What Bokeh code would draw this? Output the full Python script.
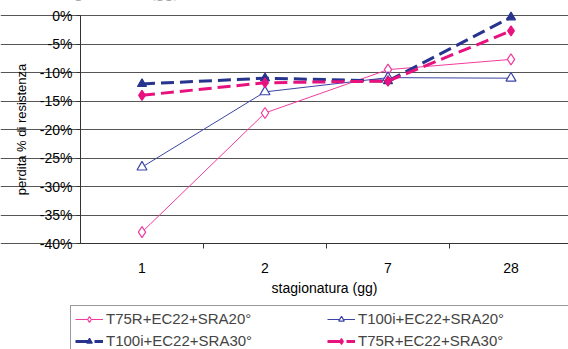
from bokeh.plotting import figure
from bokeh.models import (FixedTicker, NumeralTickFormatter, Legend, LegendItem, Label,
                          ColumnDataSource, Range1d)
from bokeh.embed import file_html
from bokeh.resources import INLINE

categories = ["1", "2", "7", "28"]
t75r_20 = [-0.380, -0.171, -0.095, -0.077]
t100i_20 = [-0.266, -0.134, -0.109, -0.110]
t100i_30 = [-0.120, -0.110, -0.115, -0.003]
t75r_30 = [-0.140, -0.118, -0.115, -0.027]
y_ticks = [-0.40, -0.35, -0.30, -0.25, -0.20, -0.15, -0.10, -0.05, 0.0]

xpos = list(range(1, len(categories) + 1))

FONT = "Liberation Sans"
W, H = 568, 349
PX_X = 123.0      # pixels per category
PX_Y = 570.0      # pixels per unit (100 %)
X0_PX, Y0_PX = 80, 15   # y-axis x position, 0% y position

x_start = 0.5 - X0_PX / PX_X
x_end = x_start + W / PX_X
y_end = 0.0 + Y0_PX / PX_Y
y_start = y_end - H / PX_Y

p = figure(width=W, height=H, output_backend="svg", toolbar_location=None,
           x_range=Range1d(x_start, x_end), y_range=Range1d(y_start, y_end),
           min_border_left=0, min_border_right=0, min_border_top=0,
           min_border_bottom=0)
p.outline_line_color = None
p.background_fill_color = "white"
p.border_fill_color = "white"

# x axis, drawn at -40 %
p.xaxis.fixed_location = -0.40
p.xaxis.bounds = (0.5, x_end)
p.xaxis.ticker = FixedTicker(ticks=xpos, minor_ticks=[1.5, 2.5, 3.5])
p.xaxis.major_label_overrides = {i: c for i, c in zip(xpos, categories)}
p.xaxis.major_tick_out = 0
p.xaxis.major_tick_in = 0
p.xaxis.minor_tick_out = 5
p.xaxis.minor_tick_in = 0
p.xaxis.minor_tick_line_color = "#333333"
p.xaxis.axis_line_color = "#333333"
p.xaxis.major_label_standoff = 14
p.xaxis.major_label_text_font = FONT
p.xaxis.major_label_text_font_size = "14px"
p.xaxis.major_label_text_color = "black"
p.xaxis.axis_label = "stagionatura (gg)"
p.xaxis.axis_label_text_font = FONT
p.xaxis.axis_label_text_font_style = "normal"
p.xaxis.axis_label_text_font_size = "14px"
p.xaxis.axis_label_text_color = "black"
p.xaxis.axis_label_standoff = 4

# y axis, drawn at the left edge of the first category
p.yaxis.fixed_location = 0.5
p.yaxis.bounds = (-0.40, 0.0)
p.yaxis.ticker = FixedTicker(ticks=y_ticks)
p.yaxis.formatter = NumeralTickFormatter(format="0%")
p.yaxis.major_tick_out = 4
p.yaxis.major_tick_in = 0
p.yaxis.minor_tick_out = 0
p.yaxis.minor_tick_in = 0
p.yaxis.axis_line_color = "#333333"
p.yaxis.major_tick_line_color = "#333333"
p.yaxis.major_label_standoff = 4
p.yaxis.major_label_text_font = FONT
p.yaxis.major_label_text_font_size = "14px"
p.yaxis.major_label_text_color = "black"
p.yaxis.axis_label = "perdita % di resistenza"
p.yaxis.axis_label_text_font = FONT
p.yaxis.axis_label_text_font_style = "normal"
p.yaxis.axis_label_text_font_size = "13px"
p.yaxis.axis_label_text_color = "black"
p.yaxis.axis_label_standoff = 8

p.xgrid.grid_line_color = None
p.ygrid.ticker = FixedTicker(ticks=y_ticks)
p.ygrid.bounds = (0.5, x_end)
p.ygrid.grid_line_color = "#555555"
p.ygrid.grid_line_width = 1

series = [
    ("T75R+EC22+SRA20°", t75r_20, "#F03C9C", 1, "solid", "diamond", "white", 11),
    ("T100i+EC22+SRA20°", t100i_20, "#3A45A5", 1, "solid", "triangle", "white", 10),
    ("T100i+EC22+SRA30°", t100i_30, "#26348E", 3, "13 6", "triangle", "#26348E", 9),
    ("T75R+EC22+SRA30°", t75r_30, "#E8127F", 3, "13 6", "diamond", "#E8127F", 10),
]

items = {}
for name, vals, col, lw, dash, mk, fill, sz in series:
    src = ColumnDataSource(dict(x=xpos, y=vals))
    r1 = p.line("x", "y", source=src, line_color=col, line_width=lw, line_dash=dash)
    r2 = p.scatter("x", "y", source=src, marker=mk, size=sz, line_color=col,
                   fill_color=fill, line_width=1.2)
    items[name] = [r1, r2]

# column-major order: first column then second column
order = ["T75R+EC22+SRA20°", "T100i+EC22+SRA30°", "T100i+EC22+SRA20°", "T75R+EC22+SRA30°"]
legend = Legend(items=[LegendItem(label=n, renderers=items[n]) for n in order],
                nrows=2, orientation="vertical", location=(70, -5))
legend.label_text_font = FONT
legend.label_text_font_size = "15px"
legend.label_width = 216
legend.label_height = 14
legend.label_standoff = 3
legend.glyph_width = 28
legend.glyph_height = 14
legend.spacing = 5
legend.padding = 4
legend.margin = 0
legend.border_line_color = "#333333"
legend.border_line_width = 1
legend.background_fill_alpha = 1
p.add_layout(legend, "center")

# partially visible caption text cut at the top edge
p.add_layout(Label(x=185, y=H + 10, x_units="screen", y_units="screen",
                   text="stagionatura (gg),", text_font="Liberation Serif",
                   text_font_style="italic", text_font_size="18px",
                   text_align="right", text_baseline="alphabetic"))

open("out.html", "w").write(file_html(p, INLINE))
